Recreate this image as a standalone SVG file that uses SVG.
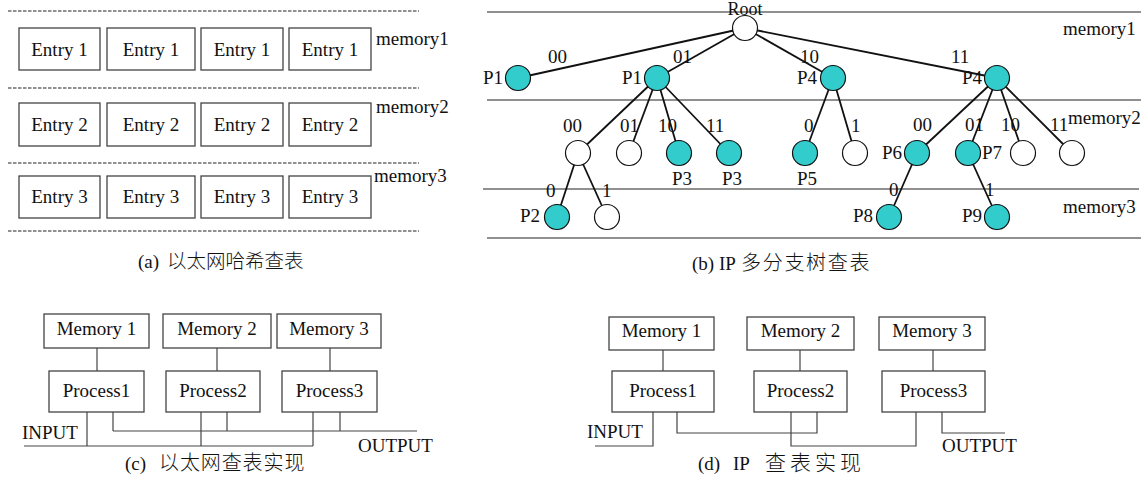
<svg xmlns="http://www.w3.org/2000/svg" width="1148" height="481" viewBox="0 0 1148 481">
<style>
text{font-family:"Liberation Serif","Noto Sans CJK SC",serif;font-size:19px;fill:#111}
.zh{font-family:"Noto Sans CJK SC","Liberation Serif",sans-serif;font-weight:300;font-size:20px}
.box{fill:#fff;stroke:#444;stroke-width:1.3}
.dash{stroke:#222;stroke-width:1.2;stroke-dasharray:3.5 1.5;fill:none}
.rule{stroke:#222;stroke-width:1.2;fill:none}
.edge{stroke:#111;stroke-width:1.8;fill:none}
.wire{stroke:#444;stroke-width:1.2;fill:none}
.on{fill:#33CCCC;stroke:#111;stroke-width:1.2}
.off{fill:#fff;stroke:#111;stroke-width:1.2}
.mid{text-anchor:middle}
</style>

<!-- (a) Ethernet hash table -->
<g id="panel-a">
  <g id="a-dashes">
    <line class="dash" x1="8" y1="11" x2="419" y2="11"/>
    <line class="dash" x1="8" y1="88" x2="419" y2="88"/>
    <line class="dash" x1="8" y1="163" x2="419" y2="163"/>
    <line class="dash" x1="8" y1="231" x2="419" y2="231"/>
  </g>
  <g id="a-row1">
    <rect class="box" x="19" y="28" width="81" height="42"/><text class="mid" x="59.5" y="56">Entry 1</text>
    <rect class="box" x="107" y="28" width="88" height="42"/><text class="mid" x="151" y="56">Entry 1</text>
    <rect class="box" x="201" y="28" width="82" height="42"/><text class="mid" x="242" y="56">Entry 1</text>
    <rect class="box" x="289" y="28" width="82" height="42"/><text class="mid" x="330" y="56">Entry 1</text>
    <text x="376" y="45">memory1</text>
  </g>
  <g id="a-row2">
    <rect class="box" x="19" y="103" width="81" height="43"/><text class="mid" x="59.5" y="131">Entry 2</text>
    <rect class="box" x="107" y="103" width="88" height="43"/><text class="mid" x="151" y="131">Entry 2</text>
    <rect class="box" x="201" y="103" width="82" height="43"/><text class="mid" x="242" y="131">Entry 2</text>
    <rect class="box" x="289" y="103" width="82" height="43"/><text class="mid" x="330" y="131">Entry 2</text>
    <text x="376" y="113">memory2</text>
  </g>
  <g id="a-row3">
    <rect class="box" x="19" y="176" width="81" height="42"/><text class="mid" x="59.5" y="203">Entry 3</text>
    <rect class="box" x="107" y="176" width="88" height="42"/><text class="mid" x="151" y="203">Entry 3</text>
    <rect class="box" x="201" y="176" width="82" height="42"/><text class="mid" x="242" y="203">Entry 3</text>
    <rect class="box" x="289" y="176" width="82" height="42"/><text class="mid" x="330" y="203">Entry 3</text>
    <text x="374" y="182">memory3</text>
  </g>
  <text x="138" y="268">(a)<tspan class="zh" x="167" style="font-size:19.5px">以太网哈希查表</tspan></text>
</g>

<!-- (b) IP multibit trie -->
<g id="panel-b">
  <g id="b-rules">
    <line class="rule" x1="487" y1="12" x2="1141" y2="12"/>
    <line class="rule" x1="487" y1="100" x2="1141" y2="100"/>
    <line class="rule" x1="483" y1="189" x2="1139" y2="189"/>
    <line class="rule" x1="487" y1="238" x2="1141" y2="238"/>
  </g>
  <g id="connectors">
    <line class="edge" x1="745" y1="28" x2="518" y2="78"/>
    <line class="edge" x1="745" y1="28" x2="657" y2="78"/>
    <line class="edge" x1="745" y1="28" x2="833" y2="78"/>
    <line class="edge" x1="745" y1="28" x2="997" y2="78"/>
    <line class="edge" x1="657" y1="78" x2="578" y2="153"/>
    <line class="edge" x1="657" y1="78" x2="629" y2="153"/>
    <line class="edge" x1="657" y1="78" x2="679" y2="153"/>
    <line class="edge" x1="657" y1="78" x2="729" y2="153"/>
    <line class="edge" x1="833" y1="78" x2="805" y2="153"/>
    <line class="edge" x1="833" y1="78" x2="855" y2="153"/>
    <line class="edge" x1="997" y1="78" x2="917" y2="153"/>
    <line class="edge" x1="997" y1="78" x2="968" y2="153"/>
    <line class="edge" x1="997" y1="78" x2="1023" y2="153"/>
    <line class="edge" x1="997" y1="78" x2="1072" y2="153"/>
    <line class="edge" x1="578" y1="153" x2="557" y2="217"/>
    <line class="edge" x1="578" y1="153" x2="607" y2="217"/>
    <line class="edge" x1="917" y1="153" x2="889" y2="217"/>
    <line class="edge" x1="968" y1="153" x2="997" y2="217"/>
  </g>
  <g id="node-root"><circle class="off" cx="745" cy="28" r="12.5"/><text class="mid" x="745" y="15" style="font-size:18px">Root</text></g>
  <g id="node-p1a"><circle class="on" cx="518" cy="78" r="12.5"/><text x="483" y="84">P1</text><text x="548" y="63">00</text></g>
  <g id="node-p1b"><circle class="on" cx="657" cy="78" r="12.5"/><text x="622" y="84">P1</text><text x="673" y="63">01</text></g>
  <g id="node-p4a"><circle class="on" cx="833" cy="78" r="12.5"/><text x="797" y="84">P4</text><text x="800" y="63">10</text></g>
  <g id="node-p4b"><circle class="on" cx="997" cy="78" r="12.5"/><text x="962" y="84">P4</text><text x="951" y="63">11</text></g>
  <text x="1063" y="35">memory1</text>

  <g id="node-n00"><circle class="off" cx="578" cy="153" r="12.5"/><text x="563" y="132">00</text></g>
  <g id="node-n01"><circle class="off" cx="629" cy="153" r="12.5"/><text x="620" y="132">01</text></g>
  <g id="node-p3a"><circle class="on" cx="679" cy="153" r="12.5"/><text x="658" y="132">10</text><text x="672" y="185">P3</text></g>
  <g id="node-p3b"><circle class="on" cx="729" cy="153" r="12.5"/><text x="706" y="132">11</text><text x="722" y="185">P3</text></g>
  <g id="node-p5"><circle class="on" cx="805" cy="153" r="12.5"/><text x="804" y="132">0</text><text x="797" y="185">P5</text></g>
  <g id="node-n1"><circle class="off" cx="855" cy="153" r="12.5"/><text x="851" y="132">1</text></g>
  <g id="node-p6"><circle class="on" cx="917" cy="153" r="12.5"/><text x="882" y="159">P6</text><text x="913" y="131">00</text></g>
  <g id="node-p7"><circle class="on" cx="968" cy="153" r="12.5"/><text x="982" y="159">P7</text><text x="965" y="131">01</text></g>
  <g id="node-n10"><circle class="off" cx="1023" cy="153" r="12.5"/><text x="1001" y="131">10</text></g>
  <g id="node-n11"><circle class="off" cx="1072" cy="153" r="12.5"/><text x="1050" y="131">11</text></g>
  <text x="1068" y="124">memory2</text>

  <g id="node-p2"><circle class="on" cx="557" cy="217" r="12.5"/><text x="520" y="222">P2</text><text x="546" y="197">0</text></g>
  <g id="node-n3"><circle class="off" cx="607" cy="217" r="12.5"/><text x="602" y="197">1</text></g>
  <g id="node-p8"><circle class="on" cx="889" cy="217" r="12.5"/><text x="853" y="222">P8</text><text x="889" y="196">0</text></g>
  <g id="node-p9"><circle class="on" cx="997" cy="217" r="12.5"/><text x="962" y="222">P9</text><text x="985" y="196">1</text></g>
  <text x="1063" y="213">memory3</text>

  <text x="692" y="270">(b)<tspan x="719">IP</tspan><tspan class="zh" x="741" style="letter-spacing:1.7px">多分支树查表</tspan></text>
</g>

<!-- (c) Ethernet lookup implementation -->
<g id="panel-c">
  <g id="c-wires">
    <line class="wire" x1="97" y1="348" x2="97" y2="371"/>
    <line class="wire" x1="217" y1="348" x2="217" y2="371"/>
    <line class="wire" x1="330" y1="348" x2="330" y2="371"/>
    <line class="wire" x1="24" y1="446" x2="313" y2="446"/>
    <line class="wire" x1="87" y1="412" x2="87" y2="446"/>
    <line class="wire" x1="201" y1="412" x2="201" y2="446"/>
    <line class="wire" x1="313" y1="412" x2="313" y2="446"/>
    <line class="wire" x1="113" y1="431" x2="417" y2="431"/>
    <line class="wire" x1="113" y1="412" x2="113" y2="431"/>
    <line class="wire" x1="227" y1="412" x2="227" y2="431"/>
    <line class="wire" x1="340" y1="412" x2="340" y2="431"/>
  </g>
  <g id="c-mem1"><rect class="box" x="44" y="314" width="105" height="34"/><text class="mid" x="96.5" y="335">Memory 1</text></g>
  <g id="c-mem2"><rect class="box" x="163" y="314" width="108" height="34"/><text class="mid" x="217" y="335">Memory 2</text></g>
  <g id="c-mem3"><rect class="box" x="277" y="314" width="104" height="34"/><text class="mid" x="329" y="335">Memory 3</text></g>
  <g id="c-proc1"><rect class="box" x="49" y="371" width="95" height="41"/><text class="mid" x="96.5" y="397">Process1</text></g>
  <g id="c-proc2"><rect class="box" x="166" y="371" width="94" height="41"/><text class="mid" x="213" y="397">Process2</text></g>
  <g id="c-proc3"><rect class="box" x="282" y="371" width="95" height="41"/><text class="mid" x="329.5" y="397">Process3</text></g>
  <text x="22" y="439">INPUT</text>
  <text x="358" y="452">OUTPUT</text>
  <text x="125" y="470">(c)<tspan class="zh" x="159" style="letter-spacing:0.9px">以太网查表实现</tspan></text>
</g>

<!-- (d) IP lookup implementation -->
<g id="panel-d">
  <g id="d-wires">
    <line class="wire" x1="663" y1="350" x2="663" y2="371"/>
    <line class="wire" x1="800" y1="350" x2="800" y2="371"/>
    <line class="wire" x1="933" y1="350" x2="933" y2="371"/>
    <polyline class="wire" points="653,412 653,446 595,446"/>
    <polyline class="wire" points="677,412 677,433 817,433 817,412"/>
    <polyline class="wire" points="791,412 791,446 916,446 916,412"/>
    <polyline class="wire" points="942,412 942,433 1005,433"/>
  </g>
  <g id="d-mem1"><rect class="box" x="609" y="317" width="105" height="33"/><text class="mid" x="661.5" y="337">Memory 1</text></g>
  <g id="d-mem2"><rect class="box" x="747" y="317" width="107" height="33"/><text class="mid" x="800.5" y="337">Memory 2</text></g>
  <g id="d-mem3"><rect class="box" x="879" y="317" width="106" height="33"/><text class="mid" x="932" y="337">Memory 3</text></g>
  <g id="d-proc1"><rect class="box" x="612" y="371" width="102" height="41"/><text class="mid" x="663" y="397">Process1</text></g>
  <g id="d-proc2"><rect class="box" x="754" y="371" width="93" height="41"/><text class="mid" x="800.5" y="397">Process2</text></g>
  <g id="d-proc3"><rect class="box" x="882" y="371" width="103" height="41"/><text class="mid" x="933.5" y="397">Process3</text></g>
  <text x="587" y="438">INPUT</text>
  <text x="942" y="452">OUTPUT</text>
  <text x="698" y="470">(d)<tspan x="733">IP</tspan><tspan class="zh" x="765" style="font-size:21px;letter-spacing:4px">查表实现</tspan></text>
</g>
</svg>
